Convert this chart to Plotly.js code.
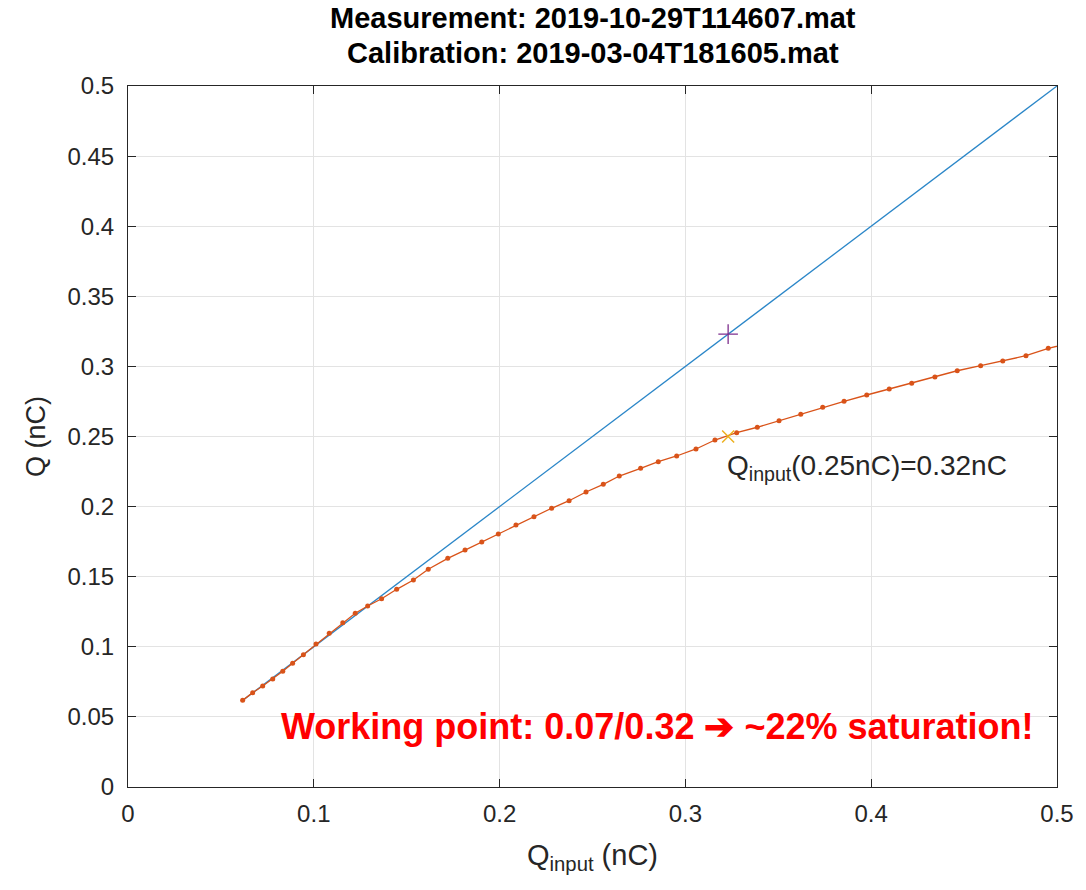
<!DOCTYPE html>
<html>
<head>
<meta charset="utf-8">
<script src="https://cdn.plot.ly/plotly-3.0.1.min.js"></script>
<style>html,body{margin:0;padding:0;background:#fff;}#chart{width:1086px;height:890px;}</style>
</head>
<body>
<div id="chart"></div>
<script>
// Measured Q vs input charge (orange)
const measQin = [0.0617,0.0671,0.0725,0.0779,0.0833,0.0886,0.0944,0.1012,0.1083,0.1156,0.1223,0.1290,0.1365,0.1446,0.1536,0.1616,0.1721,0.1814,0.1904,0.1993,0.2088,0.2185,0.2280,0.2374,0.2465,0.2558,0.2644,0.2759,0.2854,0.2953,0.3057,0.3159,0.3276,0.3387,0.3504,0.3621,0.3739,0.3854,0.3976,0.4097,0.4218,0.4343,0.4463,0.4589,0.4708,0.4833,0.4953,0.5070];
const measQ   = [0.0618,0.0673,0.0720,0.0770,0.0825,0.0882,0.0944,0.1020,0.1096,0.1172,0.1239,0.1291,0.1343,0.1410,0.1476,0.1553,0.1631,0.1690,0.1748,0.1805,0.1869,0.1928,0.1988,0.2042,0.2104,0.2159,0.2218,0.2273,0.2320,0.2361,0.2411,0.2475,0.2527,0.2566,0.2613,0.2658,0.2708,0.2751,0.2796,0.2839,0.2879,0.2924,0.2969,0.3005,0.3038,0.3076,0.3129,0.3165];
// Ideal (calibration) line Q = Q_input (blue)
const idealQin = [0.062,0.5];
const idealQ   = [0.062,0.5];
// Working point markers
const wpQin = [0.323];
const wpQideal = [0.323];
const wpQmeas = [0.25];
const xTicks = [0,0.1,0.2,0.3,0.4,0.5];
const xTickLabels = ["0","0.1","0.2","0.3","0.4","0.5"];
const yTicks = [0,0.05,0.1,0.15,0.2,0.25,0.3,0.35,0.4,0.45,0.5];
const yTickLabels = ["0","0.05","0.1","0.15","0.2","0.25","0.3","0.35","0.4","0.45","0.5"];
const titleLines = ["Measurement: 2019-10-29T114607.mat", "Calibration: 2019-03-04T181605.mat"];

const traces = [
  {x: idealQin, y: idealQ, mode:'lines', line:{color:'#2a86c8', width:1.3}, hoverinfo:'skip'},
  {x: measQin, y: measQ, mode:'lines+markers', line:{color:'#D95319', width:1.3}, marker:{color:'#D95319', size:5}},
  {x: wpQin, y: wpQideal, mode:'markers', marker:{symbol:'cross-thin-open', size:14, color:'#7E2F8E', line:{color:'#7E2F8E', width:1.3}}},
  {x: wpQin, y: wpQmeas, mode:'markers', marker:{symbol:'x-thin-open', size:12, color:'#EDB120', line:{color:'#EDB120', width:1.5}}}
];

const axisCommon = {
  showline:true, linecolor:'#262626', linewidth:1, mirror:'ticks',
  ticks:'inside', ticklen:8, tickcolor:'#262626',
  showgrid:true, gridcolor:'#e3e3e3', gridwidth:1, zeroline:false,
  tickfont:{family:'Liberation Sans, Arial, sans-serif', size:24, color:'#262626'}
};

const layout = {
  width:1086, height:890,
  margin:{l:128, r:29, t:86, b:103},
  paper_bgcolor:'#fff', plot_bgcolor:'#fff',
  showlegend:false,
  font:{family:'Liberation Sans, Arial, sans-serif', color:'#262626'},
  xaxis: Object.assign({}, axisCommon, {range:[0,0.5], tickvals:xTicks, ticktext:xTickLabels, ticklabelstandoff:5,
         title:{text:'Q<sub>input</sub> (nC)', font:{size:29, color:'#262626'}, standoff:18}}),
  yaxis: Object.assign({}, axisCommon, {range:[0,0.5], tickvals:yTicks, ticktext:yTickLabels, ticklabelstandoff:8,
         title:{text:'Q (nC)', font:{size:27, color:'#262626'}, standoff:14}}),
  annotations:[
    {x:0.5, y:1.097, xref:'paper', yref:'paper', xanchor:'center', yanchor:'middle', showarrow:false,
     text:'<b>'+titleLines[0]+'</b>', font:{size:29, color:'#000'}},
    {x:0.5, y:1.0475, xref:'paper', yref:'paper', xanchor:'center', yanchor:'middle', showarrow:false,
     text:'<b>'+titleLines[1]+'</b>', font:{size:29, color:'#000'}},
    {x:0.3214, y:0.228, xref:'x', yref:'y', xanchor:'left', yanchor:'middle', showarrow:false,
     text:'Q<sub>input</sub>(0.25nC)=0.32nC', font:{size:28, color:'#262626'}},
    {x:0.285, y:0.043, xref:'x', yref:'y', xanchor:'center', yanchor:'middle', showarrow:false,
     text:'<b>Working point: 0.07/0.32 \u2794 ~22% saturation!</b>', font:{size:36, color:'#ff0000'}}
  ]
};

Plotly.newPlot('chart', traces, layout, {displayModeBar:false, staticPlot:true});
</script>
</body>
</html>
